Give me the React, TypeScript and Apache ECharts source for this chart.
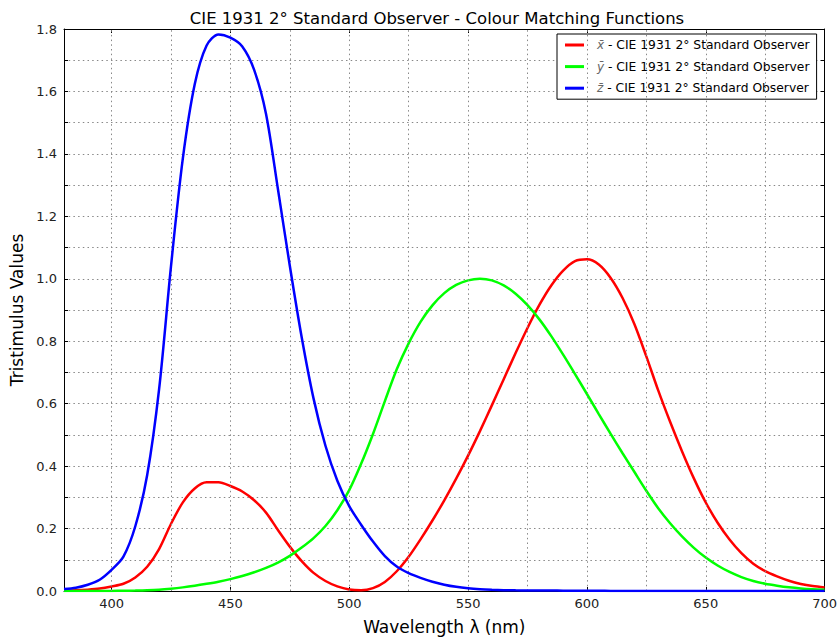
import React, { useEffect, useRef } from "react";
import * as echarts from "echarts";

const wavelengths = [
  380, 385, 390, 395, 400, 405, 410, 415, 420, 425, 430, 435, 440, 445, 450, 455, 460,
  465, 470, 475, 480, 485, 490, 495, 500, 505, 510, 515, 520, 525, 530, 535, 540, 545,
  550, 555, 560, 565, 570, 575, 580, 585, 590, 595, 600, 605, 610, 615, 620, 625, 630,
  635, 640, 645, 650, 655, 660, 665, 670, 675, 680, 685, 690, 695, 700,
];

const xBar = [
  0.001368, 0.002236, 0.004243, 0.00765, 0.01431, 0.02319, 0.04351, 0.07763, 0.13438,
  0.21477, 0.2839, 0.3285, 0.34828, 0.34806, 0.3362, 0.3187, 0.2908, 0.2511, 0.19536,
  0.1421, 0.09564, 0.05795, 0.03201, 0.0147, 0.0049, 0.0024, 0.0093, 0.0291, 0.06327,
  0.1096, 0.1655, 0.22575, 0.2904, 0.3597, 0.43345, 0.51205, 0.5945, 0.6784, 0.7621,
  0.8425, 0.9163, 0.9786, 1.0263, 1.0567, 1.0622, 1.0456, 1.0026, 0.9384, 0.85445,
  0.7514, 0.6424, 0.5419, 0.4479, 0.3608, 0.2835, 0.2187, 0.1649, 0.1212, 0.0874,
  0.0636, 0.04677, 0.0329, 0.0227, 0.01584, 0.011359,
];

const yBar = [
  0.000039, 0.000064, 0.00012, 0.000217, 0.000396, 0.00064, 0.00121, 0.00218, 0.004,
  0.0073, 0.0116, 0.01684, 0.023, 0.0298, 0.038, 0.048, 0.06, 0.0739, 0.09098, 0.1126,
  0.13902, 0.1693, 0.20802, 0.2586, 0.323, 0.4073, 0.503, 0.6082, 0.71, 0.7932, 0.862,
  0.91485, 0.954, 0.9803, 0.99495, 1.0, 0.995, 0.9786, 0.952, 0.9154, 0.87, 0.8163,
  0.757, 0.6949, 0.631, 0.5668, 0.503, 0.4412, 0.381, 0.321, 0.265, 0.217, 0.175,
  0.1382, 0.107, 0.0816, 0.061, 0.04458, 0.032, 0.0232, 0.017, 0.01192, 0.00821,
  0.005723, 0.004102,
];

const zBar = [
  0.00645, 0.01055, 0.02005, 0.03621, 0.06785, 0.1102, 0.2074, 0.3713, 0.6456, 1.03905,
  1.3856, 1.62296, 1.74706, 1.7826, 1.77211, 1.7441, 1.6692, 1.5281, 1.28764, 1.0419,
  0.81295, 0.6162, 0.46518, 0.3533, 0.272, 0.2123, 0.1582, 0.1117, 0.07825, 0.05725,
  0.04216, 0.02984, 0.0203, 0.0134, 0.00875, 0.00575, 0.0039, 0.00275, 0.0021, 0.0018,
  0.00165, 0.0014, 0.0011, 0.001, 0.0008, 0.0006, 0.00034, 0.00024, 0.00019, 0.0001,
  0.00005, 0.00003, 0.00002, 0.00001, 0, 0, 0, 0, 0, 0, 0, 0, 0, 0, 0,
];

const xGridLines = [400, 425, 450, 475, 500, 525, 550, 575, 600, 625, 650, 675];

const seriesNames = [
  "x̄ - CIE 1931 2° Standard Observer",
  "ȳ - CIE 1931 2° Standard Observer",
  "z̄ - CIE 1931 2° Standard Observer",
];
const seriesColors = ["#ff0000", "#00ff00", "#0000ff"];

const titleText = "CIE 1931 2° Standard Observer - Colour Matching Functions";
const xAxisName = "Wavelength λ (nm)";
const yAxisName = "Tristimulus Values";

const FONT = "DejaVu Sans";

export default function App() {
  const ref = useRef<HTMLDivElement>(null);

  useEffect(() => {
    if (!ref.current) return;
    const chart = echarts.init(ref.current, undefined, { renderer: "svg" });
    const values = [xBar, yBar, zBar];

    const gridLineStyle = { color: "#888", width: 1, type: [1.5, 3.2] as any };

    const option: any = {
      animation: false,
      backgroundColor: "#fff",
      title: {
        text: titleText,
        left: 432,
        textAlign: "center",
        top: 5,
        textStyle: { fontFamily: FONT, fontSize: 16.5, fontWeight: "normal", color: "#000" },
      },
      grid: { left: 64, right: 14, top: 29, bottom: 51, containLabel: false },
      legend: {
        data: seriesNames.map((n) => ({ name: n, icon: "rect" })),
        orient: "vertical",
        left: 557,
        top: 34,
        padding: [5, 7, 5, 8],
        itemGap: 9.6,
        itemWidth: 19,
        itemHeight: 3,
        backgroundColor: "#fff",
        borderColor: "#000",
        borderWidth: 1,
        borderRadius: 0,
        selectedMode: false,
        formatter: (name: string) => `{m|${name.slice(0, 2)}}${name.slice(2)}`,
        textStyle: {
          fontFamily: FONT,
          fontSize: 12.3,
          color: "#000",
          rich: {
            m: { fontFamily: FONT, fontStyle: "italic", fontSize: 12, color: "#666", padding: [0, 0, 0, 8] },
          },
        },
      },
      xAxis: [
        {
          type: "value",
          min: 380,
          max: 700,
          name: xAxisName,
          nameLocation: "middle",
          nameGap: 27,
          nameTextStyle: { fontFamily: FONT, fontSize: 17, color: "#000" },
          axisLine: { show: true, onZero: false, lineStyle: { color: "#000", width: 1 } },
          axisTick: { show: true, inside: true, length: 4, lineStyle: { color: "#000" } },
          axisLabel: {
            fontFamily: FONT,
            fontSize: 13,
            color: "#222",
            margin: 6,
            formatter: (v: number) => (v % 50 === 0 ? String(v) : ""),
          },
          splitLine: { show: false },
        },
        {
          type: "value",
          position: "top",
          min: 380,
          max: 700,
          axisLine: { show: true, onZero: false, lineStyle: { color: "#000", width: 1 } },
          axisTick: { show: true, inside: true, length: 4, lineStyle: { color: "#000" } },
          axisLabel: { show: false },
          splitLine: { show: false },
        },
      ],
      yAxis: [
        {
          type: "value",
          min: 0,
          max: 1.8,
          interval: 0.1,
          name: yAxisName,
          nameLocation: "middle",
          nameGap: 37,
          nameTextStyle: { fontFamily: FONT, fontSize: 17, color: "#000" },
          axisLine: { show: true, onZero: false, lineStyle: { color: "#000", width: 1 } },
          axisTick: { show: true, inside: true, length: 4, lineStyle: { color: "#000" } },
          axisLabel: {
            fontFamily: FONT,
            fontSize: 13,
            color: "#222",
            margin: 7,
            formatter: (v: number) => (Math.round(v * 10) % 2 === 0 ? v.toFixed(1) : ""),
          },
          splitLine: { show: true, lineStyle: gridLineStyle },
        },
        {
          type: "value",
          position: "right",
          min: 0,
          max: 1.8,
          interval: 0.1,
          axisLine: { show: true, onZero: false, lineStyle: { color: "#000", width: 1 } },
          axisTick: { show: true, inside: true, length: 4, lineStyle: { color: "#000" } },
          axisLabel: { show: false },
          splitLine: { show: false },
        },
      ],
      series: [
        {
          name: "grid",
          type: "line",
          data: [],
          xAxisIndex: 0,
          yAxisIndex: 0,
          z: 1,
          markLine: {
            silent: true,
            symbol: "none",
            label: { show: false },
            lineStyle: gridLineStyle,
            data: xGridLines.map((x) => ({ xAxis: x })),
          },
        },
        ...seriesNames.map((name, i) => ({
          name,
          type: "line",
          xAxisIndex: 0,
          yAxisIndex: 0,
          data: wavelengths.map((w, j) => [w, values[i][j]]),
          showSymbol: false,
          symbol: "none",
          smooth: 0.3,
          z: 3 + i,
          lineStyle: { color: seriesColors[i], width: 2.5 },
          itemStyle: { color: seriesColors[i] },
        })),
      ],
    };

    chart.setOption(option);
    return () => chart.dispose();
  }, []);

  return (
    <div
      ref={ref}
      style={{ position: "fixed", left: 0, top: 0, width: 840, height: 642, background: "#fff" }}
    />
  );
}
